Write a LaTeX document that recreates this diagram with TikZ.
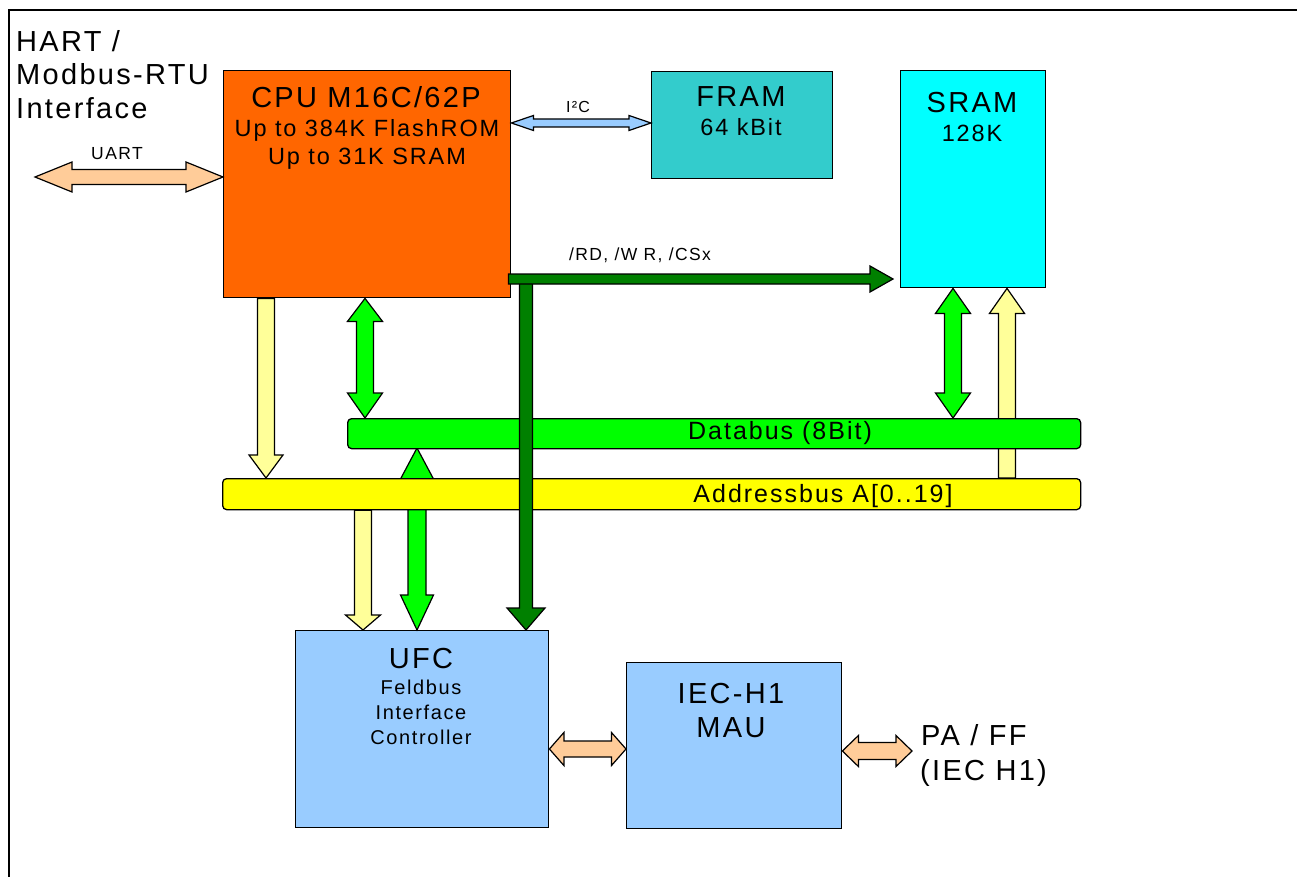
\documentclass[tikz,border=0pt]{standalone}
\usepackage{fontspec}
\setmainfont{Liberation Sans}[LetterSpace=8]
\usetikzlibrary{calc}
\definecolor{cpucol}{HTML}{FF6600}
\definecolor{framcol}{HTML}{33CCCC}
\definecolor{sramcol}{HTML}{00FFFF}
\definecolor{ufccol}{HTML}{99CCFF}
\definecolor{datacol}{HTML}{00FF00}
\definecolor{addrcol}{HTML}{FFFF00}
\definecolor{lightyel}{HTML}{FFFF99}
\definecolor{darkgrn}{HTML}{008000}
\definecolor{peach}{HTML}{FFCC99}
\definecolor{i2ccol}{HTML}{99CCFF}
\newcommand\dblarr[7]{%
 \coordinate (aa) at ($(#2)!#6!(#3)$);
 \coordinate (bb) at ($(#3)!#7!(#2)$);
 \draw[#1] (#2) -- ($(aa)!#5!90:(#3)$) -- ($(aa)!#4!90:(#3)$) -- ($(bb)!#4!90:(#3)$) -- ($(bb)!#5!90:(#3)$) -- (#3) -- ($(bb)!#5!-90:(#3)$) -- ($(bb)!#4!-90:(#3)$) -- ($(aa)!#4!-90:(#3)$) -- ($(aa)!#5!-90:(#3)$) -- cycle;}
\newcommand\sglarr[6]{%
 \coordinate (bb) at ($(#3)!#6!(#2)$);
 \draw[#1] ($(#2)!#4!90:(#3)$) -- ($(bb)!#4!90:(#3)$) -- ($(bb)!#5!90:(#3)$) -- (#3) -- ($(bb)!#5!-90:(#3)$) -- ($(bb)!#4!-90:(#3)$) -- ($(#2)!#4!-90:(#3)$) -- cycle;}
\tikzset{
  box/.style={draw=black, line width=1.4pt, anchor=north west, inner sep=0pt},
  bus/.style={draw=black, line width=1.3pt, anchor=north west, inner sep=0pt, rounded corners=4pt},
  barr/.style={draw=black, line width=1.2pt, line join=miter, miter limit=10},
  txt/.style={inner sep=0pt, anchor=base, text=black},
  txtl/.style={inner sep=0pt, anchor=base west, text=black},
  big/.style={font=\fontsize{29}{34}\selectfont},
  mid/.style={font=\fontsize{23.5}{28}\selectfont},
  busf/.style={font=\fontsize{25}{29}\selectfont},
  ufcf/.style={font=\fontsize{20}{24}\selectfont},
  small/.style={font=\fontsize{17.5}{20}\selectfont},
  tiny/.style={font=\fontsize{16}{19}\selectfont},
}
\begin{document}
\begin{tikzpicture}[x=1pt, y=-1pt]
\useasboundingbox (0,0) rectangle (1297,877);
\fill[white] (0,0) rectangle (1297,877);
% frame
\draw[line width=1.8pt] (1300,10) -- (9,10) -- (9,880);

% boxes
\node[box, fill=cpucol, minimum width=287pt, minimum height=227pt] (cpu) at (223,70) {};
\node[box, fill=framcol, minimum width=181pt, minimum height=107pt] (fram) at (651,71) {};
\node[box, fill=sramcol, minimum width=145pt, minimum height=217pt] (sram) at (900,70) {};
\node[box, fill=ufccol, minimum width=253pt, minimum height=197pt] (ufc) at (295,630) {};
\node[box, fill=ufccol, minimum width=215pt, minimum height=166pt] (mau) at (626,662) {};

% left text
\node[txtl, big] (hart1) at (16,52) {HART /};
\node[txtl, big] (hart2) at (16,85) {Modbus-RTU};
\node[txtl, big] (hart3) at (16,119) {Interface};

% box texts
\node[txt, big] (cput1) at (366,108) {CPU M16C/62P};
\node[txt, mid] (cput2) at (367,137) {Up to 384K FlashROM};
\node[txt, mid] (cput3) at (367,165) {Up to 31K SRAM};
\node[txt, big] (framt1) at (741,107) {FRAM};
\node[txt, mid] (framt2) at (741,136) {64 kBit};
\node[txt, big] (sramt1) at (972,113) {SRAM};
\node[txt, mid] (sramt2) at (972,142) {128K};
\node[txt, big] (ufct1) at (421,668) {UFC};
\node[txt, ufcf] (ufct2) at (421,694) {Feldbus};
\node[txt, ufcf] (ufct3) at (421,719) {Interface};
\node[txt, ufcf] (ufct4) at (421,744) {Controller};
\node[txt, big] (maut1) at (731,703) {IEC-H1};
\node[txt, big] (maut2) at (731,737) {MAU};
\node[txtl, big] (pa1) at (921,745) {PA / FF};
\node[txtl, big] (pa2) at (920,780) {(IEC H1)};

% arrows behind buses
\coordinate (d2u_a) at (417,448);
\coordinate (d2u_b) at (417,0 |- ufc.north);
\dblarr{barr, fill=datacol}{d2u_a}{d2u_b}{9pt}{16.5pt}{31pt}{35pt}
\coordinate (a2s_a) at (1007,478);
\coordinate (a2s_b) at (1007,0 |- sram.south);
\sglarr{barr, fill=lightyel}{a2s_a}{a2s_b}{8.5pt}{17.5pt}{25pt}

% buses
\node[bus, fill=datacol, minimum width=733pt, minimum height=30pt] (databus) at (347,418) {};
\node[bus, fill=addrcol, minimum width=858pt, minimum height=31pt] (addrbus) at (222,478) {};
\node[txt, busf] (datat) at (780,439) {Databus (8Bit)};
\node[txt, busf] (addrt) at (823,502) {Addressbus A[0..19]};

% UART
\coordinate (uartL) at (35,177);
\coordinate (uartR) at (cpu.west |- 0,177);
\dblarr{barr, fill=peach}{uartL}{uartR}{7.5pt}{15pt}{37pt}{37pt}
\node[txt, small] (uartt) at (117,160) {UART};

% I2C
\coordinate (i2cL) at (cpu.east |- 0,123);
\coordinate (i2cR) at (fram.west |- 0,123);
\dblarr{barr, fill=i2ccol}{i2cL}{i2cR}{4pt}{7.5pt}{22pt}{22pt}
\node[txt, tiny] (i2ct) at (578,113) {I²C};

% CPU -> addressbus
\coordinate (c2a_a) at (266,0 |- cpu.south);
\coordinate (c2a_b) at (266,0 |- addrbus.north);
\sglarr{barr, fill=lightyel}{c2a_a}{c2a_b}{8.5pt}{17pt}{23pt}

% CPU <-> databus
\coordinate (c2d_a) at (365,0 |- cpu.south);
\coordinate (c2d_b) at (365,0 |- databus.north);
\dblarr{barr, fill=datacol}{c2d_a}{c2d_b}{8.5pt}{17.5pt}{23pt}{25pt}

% addressbus -> UFC
\coordinate (a2u_a) at (363,0 |- addrbus.south);
\coordinate (a2u_b) at (363,0 |- ufc.north);
\sglarr{barr, fill=lightyel}{a2u_a}{a2u_b}{8.5pt}{17.5pt}{15pt}

% SRAM <-> databus
\coordinate (s2d_a) at (953,0 |- sram.south);
\coordinate (s2d_b) at (953,0 |- databus.north);
\dblarr{barr, fill=datacol}{s2d_a}{s2d_b}{8.5pt}{17.5pt}{25pt}{25pt}

% UFC <-> MAU
\coordinate (u2m_a) at (ufc.east |- 0,749);
\coordinate (u2m_b) at (mau.west |- 0,749);
\dblarr{barr, fill=peach}{u2m_a}{u2m_b}{8pt}{16.5pt}{14.5pt}{14.5pt}

% MAU <-> PA/FF
\coordinate (m2p_a) at (mau.east |- 0,751);
\coordinate (m2p_b) at (912,751);
\dblarr{barr, fill=peach}{m2p_a}{m2p_b}{8.5pt}{15.5pt}{16pt}{16pt}

% control lines (dark green)
\coordinate (rd_v) at (526,279);
\coordinate (rd_u) at (526,0 |- ufc.north);
\sglarr{barr, fill=darkgrn}{rd_v}{rd_u}{6.5pt}{19pt}{22pt}
\coordinate (rd_a) at ($(cpu.east |- 0,279)+(-3,0)$);
\coordinate (rd_b) at ($(sram.west |- 0,279)+(-7,0)$);
\sglarr{barr, fill=darkgrn}{rd_a}{rd_b}{5pt}{13pt}{23pt}
\node[txt, small] (rdt) at (640,261) {/RD, /W R, /CSx};
\end{tikzpicture}
\end{document}
